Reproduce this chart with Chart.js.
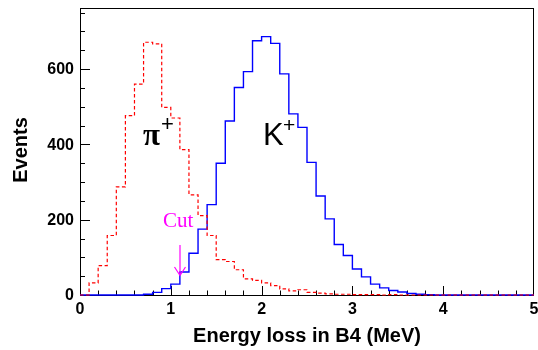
<!DOCTYPE html>
<html>
<head>
<meta charset="utf-8">
<script src="https://cdn.jsdelivr.net/npm/chart.js@4/dist/chart.umd.min.js"></script>
<style>
  html, body { margin: 0; padding: 0; background: #fff; }
  canvas { display: block; }
</style>
</head>
<body>
<canvas id="energyLoss" width="538" height="350"></canvas>
<script>
// Histogram: 50 bins of 0.1 MeV between 0 and 5 MeV
const binWidth = 0.1;
const binEdges = Array.from({ length: 51 }, (_, i) => +(i * binWidth).toFixed(1));

// pi+ counts per bin (dashed red)
const pionCounts = [
  0, 32, 78, 158, 287, 476, 560, 671, 667, 498,
  470, 386, 266, 211, 158, 94, 89, 67, 43, 39,
  32, 25, 16, 11, 14, 7, 5, 3, 2, 2,
  1, 1, 1, 0, 1, 0, 0, 0, 0, 0,
  0, 0, 0, 0, 0, 0, 0, 0, 0, 0
];

// K+ counts per bin (solid blue)
const kaonCounts = [
  0, 0, 0, 0, 0, 0, 0, 2, 7, 17,
  29, 61, 111, 175, 240, 350, 462, 551, 593, 675,
  686, 668, 587, 481, 445, 352, 263, 202, 134, 105,
  69, 48, 29, 19, 12, 8, 4, 2, 1, 0,
  0, 0, 0, 0, 0, 0, 0, 0, 0, 0
];

const xTicks = [0, 1, 2, 3, 4, 5];
const yTicks = [0, 200, 400, 600];
const cutValue = 1.1;

const FONT = '"Liberation Sans", Arial, Helvetica, sans-serif';

// points at left bin edges, plus closing point at the upper edge
function toSteps(counts) {
  const pts = counts.map((c, i) => ({ x: binEdges[i], y: c }));
  pts.push({ x: binEdges[counts.length], y: counts[counts.length - 1] });
  return pts;
}

// ROOT-like frame with ticks pointing inwards
const frameAxes = {
  id: "frameAxes",
  beforeDatasetsDraw(chart) {
    const { ctx, chartArea: a, scales: { x, y } } = chart;
    ctx.save();
    ctx.strokeStyle = "#000";
    ctx.lineWidth = 1;
    ctx.strokeRect(a.left + 0.5, a.top + 0.5, a.right - a.left - 1, a.bottom - a.top);

    ctx.beginPath();
    // x ticks: major every 1, minor every 0.2
    for (let i = 1; i < 25; i++) {
      const v = i * 0.2;
      const px = Math.round(x.getPixelForValue(v)) + 0.5;
      const len = i % 5 === 0 ? 9 : 4.5;
      ctx.moveTo(px, a.bottom);
      ctx.lineTo(px, a.bottom - len);
    }
    // y ticks: major every 200, minor every 50
    for (let v = 50; v <= y.max; v += 50) {
      const py = Math.round(y.getPixelForValue(v)) + 0.5;
      const len = v % 200 === 0 ? 10 : 5;
      ctx.moveTo(a.left, py);
      ctx.lineTo(a.left + len, py);
    }
    ctx.stroke();
    ctx.restore();
  },
  afterDraw(chart) {
    const { ctx, chartArea: a, scales: { x, y } } = chart;
    ctx.save();
    ctx.fillStyle = "#000";

    // tick labels
    ctx.font = "bold 16px " + FONT;
    ctx.textAlign = "right";
    ctx.textBaseline = "middle";
    yTicks.forEach(v => ctx.fillText(String(v), a.left - 6, y.getPixelForValue(v) + 1));
    ctx.textAlign = "center";
    ctx.textBaseline = "top";
    xTicks.forEach(v => ctx.fillText(String(v), x.getPixelForValue(v), a.bottom + 7));

    // axis titles
    ctx.font = "bold 20px " + FONT;
    ctx.textAlign = "center";
    ctx.textBaseline = "alphabetic";
    ctx.fillText("Energy loss in B4 (MeV)", (a.left + a.right) / 2, 342);
    ctx.save();
    ctx.translate(27, 150);
    ctx.rotate(-Math.PI / 2);
    ctx.fillText("Events", 0, 0);
    ctx.restore();

    // particle labels
    ctx.textAlign = "left";
    ctx.font = "31px " + FONT;
    ctx.fillText("K", 263, 145);
    ctx.font = "21px " + FONT;
    ctx.fillText("+", 283, 132);
    ctx.font = "bold 31px \"Liberation Serif\", \"DejaVu Serif\", serif";
    ctx.fillText("\u03c0", 143, 145);
    ctx.font = "22px " + FONT;
    ctx.fillText("+", 161, 131);

    // cut marker
    const cx = Math.round(x.getPixelForValue(cutValue));
    ctx.fillStyle = "#ff00ff";
    ctx.strokeStyle = "#ff00ff";
    ctx.font = "21px \"Liberation Serif\", \"Times New Roman\", serif";
    ctx.fillText("Cut", 163, 227);
    ctx.lineWidth = 1.2;
    ctx.beginPath();
    ctx.moveTo(cx, 245);
    ctx.lineTo(cx, 275);
    ctx.moveTo(cx - 5.5, 267);
    ctx.lineTo(cx, 275.5);
    ctx.lineTo(cx + 5.5, 267);
    ctx.stroke();
    ctx.restore();
  }
};

new Chart(document.getElementById("energyLoss"), {
  type: "line",
  data: {
    datasets: [
      {
        label: "pi+",
        data: toSteps(pionCounts),
        stepped: true,
        borderColor: "#ff0000",
        borderWidth: 1.2,
        borderDash: [3.5, 2.5],
        pointRadius: 0,
        fill: false,
        clip: false,
      },
      {
        label: "K+",
        data: toSteps(kaonCounts),
        stepped: true,
        borderColor: "#0000ff",
        borderWidth: 1.4,
        pointRadius: 0,
        fill: false,
        clip: false,
      },
    ],
  },
  options: {
    responsive: false,
    animation: false,
    devicePixelRatio: 1,
    layout: { padding: { left: 80, right: 4, top: 8, bottom: 55 } },
    scales: {
      x: { type: "linear", min: 0, max: 5, display: false },
      y: { min: 0, max: 762, display: false },
    },
    plugins: {
      legend: { display: false },
      tooltip: { enabled: false },
    },
  },
  plugins: [frameAxes],
});
</script>
</body>
</html>
